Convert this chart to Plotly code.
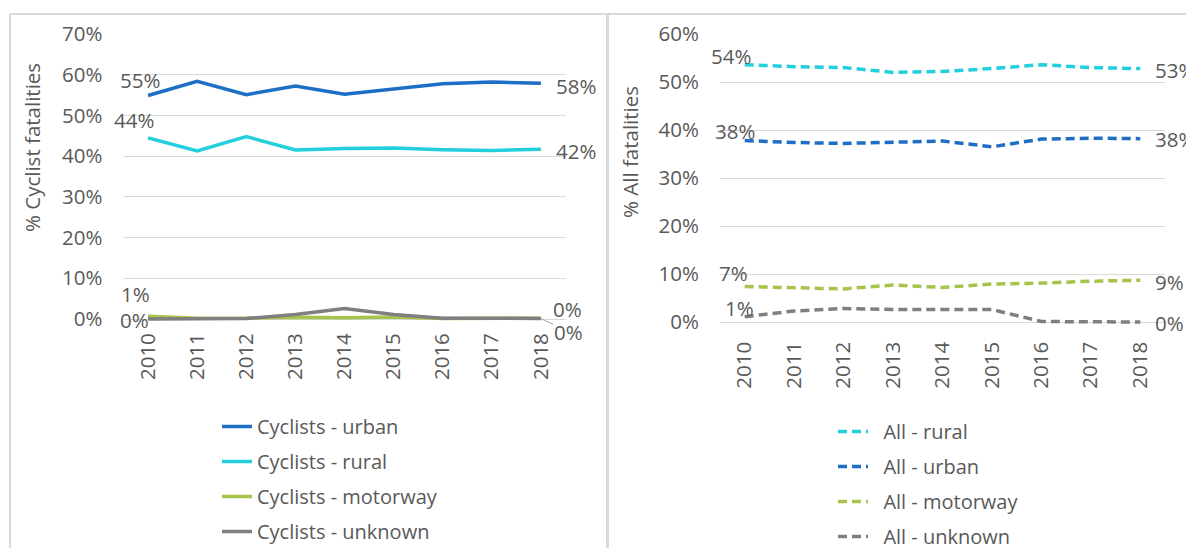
import plotly.graph_objects as go

years = [2010, 2011, 2012, 2013, 2014, 2015, 2016, 2017, 2018]

# % of cyclist fatalities by area (left panel)
cyc_urban = [54.9, 58.4, 55.1, 57.2, 55.2, 56.4, 57.8, 58.2, 57.9]
cyc_rural = [44.5, 41.3, 44.8, 41.5, 41.9, 42.0, 41.6, 41.4, 41.7]
cyc_motorway = [0.7, 0.2, 0.2, 0.4, 0.3, 0.5, 0.1, 0.1, 0.2]
cyc_unknown = [0.0, 0.1, 0.1, 1.1, 2.6, 1.1, 0.2, 0.2, 0.1]

# % of all fatalities by area (right panel)
all_rural = [53.6, 53.2, 53.0, 52.0, 52.2, 52.8, 53.6, 53.0, 52.8]
all_urban = [37.8, 37.4, 37.2, 37.5, 37.7, 36.5, 38.1, 38.3, 38.2]
all_motorway = [7.4, 7.1, 6.9, 7.7, 7.2, 7.9, 8.1, 8.5, 8.7]
all_unknown = [1.1, 2.3, 2.8, 2.6, 2.6, 2.6, 0.1, 0.0, 0.0]

left_ticks = [0, 10, 20, 30, 40, 50, 60, 70]
right_ticks = [0, 10, 20, 30, 40, 50, 60]

C_URBAN = '#1f6ec6'
C_RURAL = '#22cfdd'
C_MOTOR = '#a6c34c'
C_UNK = '#7f7f7f'
TXT = '#595959'
GRID = '#d9d9d9'
FONT = 'Open Sans'
FS = 20.5

# page body has an 8px margin, so the figure is drawn a bit smaller and
# positions below are given in screen pixels, then shifted
OFF = 8
FW, FH = 1194 - OFF, 548 - OFF


def fx(p):
    return (p - OFF) / FW


def fy(p):
    return 1 - (p - OFF) / FH


fig = go.Figure()

left = [
    ('Cyclists - urban', cyc_urban, C_URBAN),
    ('Cyclists - rural', cyc_rural, C_RURAL),
    ('Cyclists - motorway', cyc_motorway, C_MOTOR),
    ('Cyclists - unknown', cyc_unknown, C_UNK),
]
for i, (name, vals, col) in enumerate(left):
    fig.add_trace(go.Scatter(
        x=years, y=vals, name=name, mode='lines',
        line=dict(color=col, width=3.5),
        xaxis='x', yaxis='y', legend='legend', legendgroup=f'l{i}',
    ))

# nbsp padding: Excel's dashed legend keys are longer than plotly's
right = [
    ('\u00a0\u00a0All - rural', all_rural, C_RURAL),
    ('\u00a0\u00a0All - urban', all_urban, C_URBAN),
    ('\u00a0\u00a0All - motorway', all_motorway, C_MOTOR),
    ('\u00a0\u00a0All - unknown', all_unknown, C_UNK),
]
for i, (name, vals, col) in enumerate(right):
    fig.add_trace(go.Scatter(
        x=years, y=vals, name=name, mode='lines',
        line=dict(color=col, width=3.5, dash='9px,5px'),
        xaxis='x2', yaxis='y2', legend='legend2', legendgroup=f'r{i}',
    ))


# data labels at first and last point
def lab(xref, yref, x, v, xs, ys, anchor='center'):
    fig.add_annotation(
        x=x, y=v, xref=xref, yref=yref, text=f'{round(v)}%',
        showarrow=False, xshift=xs, yshift=ys, xanchor=anchor,
        font=dict(family=FONT, size=FS, color=TXT),
    )


lab('x', 'y', years[0], cyc_urban[0], -8, 15)
lab('x', 'y', years[-1], cyc_urban[-1], 13, -3, 'left')
lab('x', 'y', years[0], cyc_rural[0], -14, 18)
lab('x', 'y', years[-1], cyc_rural[-1], 13, -2, 'left')
lab('x', 'y', years[0], cyc_motorway[0], -13, 22)
lab('x', 'y', years[0], cyc_unknown[0], -14, -1)
lab('x', 'y', years[-1], cyc_motorway[-1], 10, 9, 'left')
fig.add_annotation(
    x=years[-1], y=cyc_unknown[-1], xref='x', yref='y',
    text=f'{round(cyc_unknown[-1])}%', showarrow=True,
    arrowhead=0, arrowwidth=1, arrowcolor='#a6a6a6', standoff=0,
    ax=28, ay=13, font=dict(family=FONT, size=FS, color=TXT),
)

lab('x2', 'y2', years[0], all_rural[0], -14, 9)
lab('x2', 'y2', years[-1], all_rural[-1], 13, -1, 'left')
lab('x2', 'y2', years[0], all_urban[0], -10, 10)
lab('x2', 'y2', years[-1], all_urban[-1], 13, 0, 'left')
lab('x2', 'y2', years[0], all_motorway[0], -11, 13)
lab('x2', 'y2', years[-1], all_motorway[-1], 13, -2, 'left')
lab('x2', 'y2', years[0], all_unknown[0], -5, 9)
lab('x2', 'y2', years[-1], all_unknown[-1], 13, -1, 'left')

# axis titles
for txt, x, y in [('% Cyclist fatalities', 32, 148), ('% All fatalities', 630, 152)]:
    fig.add_annotation(
        x=fx(x), y=fy(y), xref='paper', yref='paper', text=txt,
        textangle=-90, showarrow=False, xanchor='center', yanchor='middle',
        font=dict(family=FONT, size=FS, color=TXT),
    )

xcommon = dict(
    range=[2009.5, 2018.5], tickvals=years, ticktext=[str(y) for y in years],
    tickangle=-90, showgrid=False, zeroline=False, showline=False,
    ticks='', automargin=False, tickfont=dict(family=FONT, size=FS, color=TXT),
)
ycommon = dict(
    showgrid=True, gridcolor=GRID, gridwidth=1, zeroline=False,
    showline=False, ticks='', automargin=False, ticklabelstandoff=20,
    tickfont=dict(family=FONT, size=FS, color=TXT),
)

# y ranges start a little below 0 so lines lying on 0% are not clipped;
# the domain bottoms are moved down by the same amount
fig.update_layout(
    width=FW, height=FH,
    margin=dict(l=0, r=0, t=0, b=0, autoexpand=False),
    paper_bgcolor='white', plot_bgcolor='white',
    font=dict(family=FONT, color=TXT),
    xaxis=dict(domain=[fx(123.5), fx(565.5)], anchor='y', ticklabelstandoff=5, **xcommon),
    yaxis=dict(
        domain=[fy(319 + 4.07), fy(34)], range=[-1, 70], anchor='x',
        tickvals=left_ticks, ticktext=[f'{v}%' for v in left_ticks], **ycommon,
    ),
    xaxis2=dict(domain=[fx(720), fx(1165)], anchor='y2', ticklabelstandoff=10, **xcommon),
    yaxis2=dict(
        domain=[fy(322 + 4.8), fy(34)], range=[-1, 60], anchor='x2',
        tickvals=right_ticks, ticktext=[f'{v}%' for v in right_ticks], **ycommon,
    ),
    legend=dict(
        x=fx(217), y=fy(407), xanchor='left', yanchor='top',
        font=dict(family=FONT, size=20, color=TXT),
        tracegroupgap=6, bgcolor='rgba(0,0,0,0)',
    ),
    legend2=dict(
        x=fx(833), y=fy(412), xanchor='left', yanchor='top',
        font=dict(family=FONT, size=20, color=TXT),
        tracegroupgap=6, bgcolor='rgba(0,0,0,0)',
    ),
    showlegend=True,
)

# panel borders
fig.add_shape(type='line', xref='paper', yref='paper',
              x0=fx(10), x1=1, y0=fy(14), y1=fy(14),
              line=dict(color=GRID, width=2))
fig.add_shape(type='line', xref='paper', yref='paper',
              x0=fx(10), x1=fx(10), y0=fy(14), y1=0,
              line=dict(color=GRID, width=2))
fig.add_shape(type='line', xref='paper', yref='paper',
              x0=fx(607.5), x1=fx(607.5), y0=fy(14), y1=0,
              line=dict(color=GRID, width=3))

fig.write_html('out.html')
